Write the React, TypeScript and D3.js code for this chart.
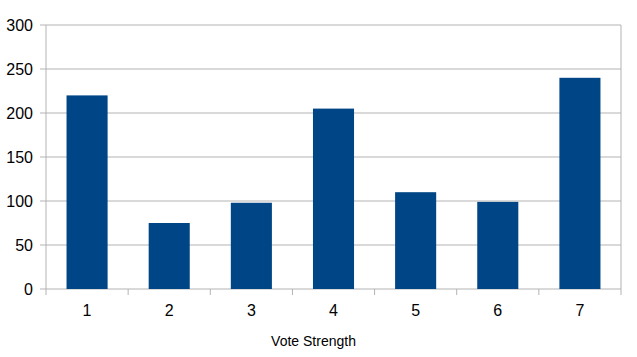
import React from "react";
import * as d3 from "d3";

const categories = ["1", "2", "3", "4", "5", "6", "7"];
const values = [220, 75, 98, 205, 110, 99, 240];
const yTicks = [0, 50, 100, 150, 200, 250, 300];
const xTitle = "Vote Strength";

export default function App() {
  const W = 637, H = 357;
  const left = 46, right = 621, top = 25, bottom = 289;
  const x = d3.scaleBand<string>().domain(categories).range([left, right]).paddingInner(0.5).paddingOuter(0.25);
  const xb = d3.scaleBand<string>().domain(categories).range([left, right]);
  const y = d3.scaleLinear().domain([0, 300]).range([bottom, top]);
  const font = "'Liberation Sans', Arial, sans-serif";
  const grid = "#b3b3b3";
  return (
    <svg width={W} height={H} style={{ position: "absolute", left: 0, top: 0, background: "#fff" }} fontFamily={font}>
      {yTicks.map((t) => (
        <g key={t}>
          <line x1={left - 6} x2={right} y1={y(t)} y2={y(t)} stroke={grid} strokeWidth={1} />
          <text x={33} y={y(t)} dy="0.35em" textAnchor="end" fontSize={16} fill="#000">{t}</text>
        </g>
      ))}
      <line x1={left} x2={left} y1={top} y2={bottom + 6} stroke={grid} />
      <line x1={right} x2={right} y1={top} y2={bottom + 6} stroke={grid} />
      {categories.slice(1).map((c) => (
        <line key={c} x1={xb(c)!} x2={xb(c)!} y1={bottom} y2={bottom + 6} stroke={grid} />
      ))}
      {categories.map((c, i) => (
        <rect key={c} x={x(c)!} width={x.bandwidth()} y={y(values[i])} height={bottom - y(values[i])} fill="#004586" />
      ))}
      {categories.map((c) => (
        <text key={c} x={xb(c)! + xb.bandwidth() / 2} y={316} textAnchor="middle" fontSize={16} fill="#000">{c}</text>
      ))}
      <text x={(left + right) / 2 - 20} y={346} textAnchor="middle" fontSize={14} fill="#000">{xTitle}</text>
    </svg>
  );
}
